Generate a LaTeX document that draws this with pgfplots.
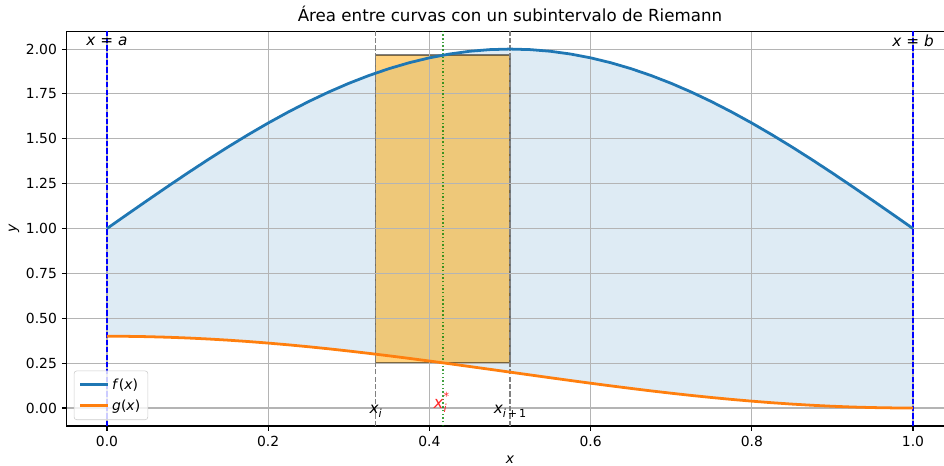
\documentclass[border=0pt]{standalone}
\usepackage{fontspec}
\setmainfont{DejaVu Sans}
\usepackage{pgfplots}
\usepgfplotslibrary{fillbetween}
\usepackage{pgfplotstable}
\pgfplotsset{compat=1.18}

\definecolor{c0}{RGB}{31,119,180}
\definecolor{c1}{RGB}{255,127,14}
\definecolor{gridc}{RGB}{180,180,180}
\definecolor{legc}{RGB}{204,204,204}
\definecolor{mplorange}{RGB}{255,165,0}
\definecolor{mplgreen}{RGB}{0,128,0}
\definecolor{mplgray}{RGB}{128,128,128}
\definecolor{lightred}{RGB}{255,40,40}

% patches below the grid, curves above it
\pgfplotsset{
  layers/patches below grid/.define layer set={
    axis background, shade layer, rect layer, axis grid, axis ticks,
    axis lines, axis tick labels, pre main, main, axis descriptions,
    axis foreground}{},
}

% f(x) = 1 + sin(pi x),  g(x) = 0.2 (1 + cos(pi x)), sampled on [0,1]
\pgfplotstableread{
x f g
0.000 1.0000 0.40000
0.025 1.0785 0.39938
0.050 1.1564 0.39754
0.075 1.2334 0.39447
0.100 1.3090 0.39021
0.125 1.3827 0.38478
0.150 1.4540 0.37820
0.175 1.5225 0.37053
0.200 1.5878 0.36180
0.225 1.6494 0.35208
0.250 1.7071 0.34142
0.275 1.7604 0.32989
0.300 1.8090 0.31756
0.325 1.8526 0.30450
0.350 1.8910 0.29080
0.375 1.9239 0.27654
0.400 1.9511 0.26180
0.425 1.9724 0.24669
0.450 1.9877 0.23129
0.475 1.9969 0.21569
0.500 2.0000 0.20000
0.525 1.9969 0.18431
0.550 1.9877 0.16871
0.575 1.9724 0.15331
0.600 1.9511 0.13820
0.625 1.9239 0.12346
0.650 1.8910 0.10920
0.675 1.8526 0.09550
0.700 1.8090 0.08244
0.725 1.7604 0.07011
0.750 1.7071 0.05858
0.775 1.6494 0.04792
0.800 1.5878 0.03820
0.825 1.5225 0.02947
0.850 1.4540 0.02180
0.875 1.3827 0.01522
0.900 1.3090 0.00979
0.925 1.2334 0.00553
0.950 1.1564 0.00246
0.975 1.0785 0.00062
1.000 1.0000 0.00000
}\curves

\newcommand{\fs}[1]{\fontsize{#1}{#1}\selectfont}
% lowered index and raised mark after an italic letter
\newcommand{\sub}[1]{\raisebox{-0.45ex}{\fs{8}#1}}
\newcommand{\sups}[1]{\makebox[0pt][l]{\raisebox{0.9ex}{\fs{8}#1}}}

\begin{document}
\begin{tikzpicture}
\begin{axis}[
  set layers=patches below grid,
  fill between/on layer=shade layer,
  scale only axis,
  width=638.4pt, height=284.3pt,
  xmin=-0.05, xmax=1.05,
  ymin=-0.1, ymax=2.1,
  xtick={0,0.2,0.4,0.6,0.8,1.0},
  xticklabels={0.0,0.2,0.4,0.6,0.8,1.0},
  ytick={0,0.25,0.5,0.75,1,1.25,1.5,1.75,2},
  yticklabels={0.00,0.25,0.50,0.75,1.00,1.25,1.50,1.75,2.00},
  tick label style={font=\fs{10}},
  /pgf/number format/assume math mode=true,
  tick align=outside,
  major tick length=3.5pt,
  tick style={black, line width=0.8pt},
  xtick pos=bottom, ytick pos=left,
  axis line style={black, line width=0.8pt},
  grid=major,
  major grid style={gridc, line width=0.8pt},
  title={\fs{12}Área entre curvas con un subintervalo de Riemann},
  title style={yshift=-3pt},
  xlabel={\fs{10}\textit{x}},
  ylabel={\fs{10}\textit{y}},
  ylabel style={yshift=-2pt},
  clip=true,
  legend cell align=left,
  legend style={at={(axis description cs:0.008,0.015)}, anchor=south west,
    draw=legc, rounded corners=2pt, fill=white, fill opacity=0.8,
    text opacity=1, font=\fs{10}, inner sep=3.5pt, row sep=2pt},
  legend image code/.code={\draw[#1] (0pt,0pt) -- (20pt,0pt);},
]
% invisible boundary paths for the shaded region
\addplot[draw=none, name path=F, forget plot] table[x=x, y=f] {\curves};
\addplot[draw=none, name path=G, forget plot] table[x=x, y=g] {\curves};
\addplot[fill=c0, fill opacity=0.15, draw=none, forget plot]
  fill between[of=F and G];

% Riemann rectangle on [x_i, x_{i+1}] with height taken at x_i^*
\addplot[fill=mplorange, fill opacity=0.5, draw=black, draw opacity=0.5,
  line width=1pt, forget plot, on layer=rect layer]
  coordinates {(0.33333,0.2518) (0.5,0.2518) (0.5,1.9659) (0.33333,1.9659) (0.33333,0.2518)};

% boundaries a and b
\addplot[blue, line width=0.9pt, dash pattern=on 3.7pt off 1.6pt, forget plot]
  coordinates {(0,-0.1) (0,2.1)};
\addplot[blue, line width=0.9pt, dash pattern=on 3.7pt off 1.6pt, forget plot]
  coordinates {(1,-0.1) (1,2.1)};
% subinterval limits
\addplot[mplgray, line width=0.9pt, dash pattern=on 3.7pt off 1.6pt, forget plot]
  coordinates {(0.33333,-0.1) (0.33333,2.1)};
\addplot[mplgray, line width=0.9pt, dash pattern=on 3.7pt off 1.6pt, forget plot]
  coordinates {(0.5,-0.1) (0.5,2.1)};
% sample point
\addplot[mplgreen, draw opacity=0.75, line width=1.2pt, dash pattern=on 1pt off 1.65pt, forget plot]
  coordinates {(0.41667,-0.1) (0.41667,2.1)};

% the curves
\addplot[c0, line width=2pt] table[x=x, y=f] {\curves};
\addlegendentry{\textit{f}(\textit{x})}
\addplot[c1, line width=2pt] table[x=x, y=g] {\curves};
\addlegendentry{\textit{g}(\textit{x})}

% annotations
\node at (axis cs:0,2.045) {\fs{11}\textit{x} = \textit{a}};
\node at (axis cs:1,2.045) {\fs{11}\textit{x} = \textit{b}};
\node at (axis cs:0.33333,-0.02) {\fs{11}\textit{x}\sub{\textit{i}}};
\node at (axis cs:0.5,-0.02) {\fs{11}\textit{x}\sub{\textit{i}\,+\,1}};
\node[color=lightred, inner sep=0pt] at (axis cs:0.4135,0.03)
  {\fs{12}\textit{x}\sups{*}\sub{\textit{i}}\hspace{1pt}};
\end{axis}
\pgfresetboundingbox
\path[use as bounding box] ([xshift=-48pt,yshift=-28.8pt]current axis.south west)
  rectangle ([xshift=631.7pt,yshift=22.4pt]current axis.north west);
\end{tikzpicture}
\end{document}
